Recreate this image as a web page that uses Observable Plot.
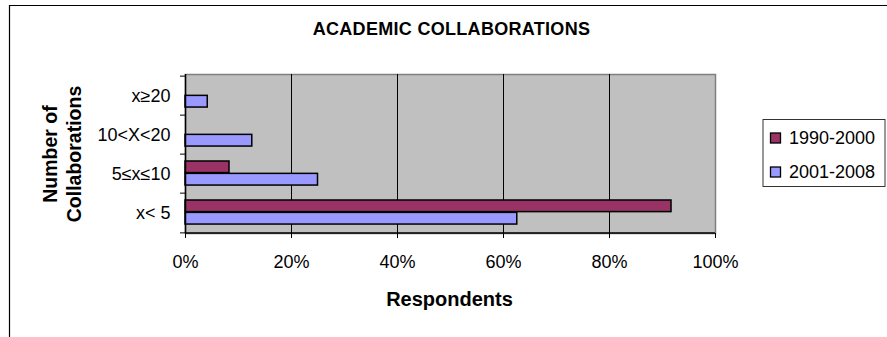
<!DOCTYPE html>
<html>
<head>
<meta charset="utf-8">
<script src="https://cdn.jsdelivr.net/npm/d3@7"></script>
<script src="https://cdn.jsdelivr.net/npm/@observablehq/plot@0.6"></script>
<style>
  html, body { margin: 0; padding: 0; background: #fff; }
  #wrap { position: relative; width: 887px; height: 337px; overflow: hidden; background: #fff;
          font-family: "Liberation Sans", Arial, Helvetica, sans-serif; }
  #wrap > svg { position: absolute; left: 0; top: 0; }
</style>
</head>
<body>
<div id="wrap"></div>
<script>
// ---- data ----
const title = "ACADEMIC COLLABORATIONS";
const xTitle = "Respondents";
const yTitleLines = ["Number of", "Collaborations"];
const categories = ["x≥20", "10<X<20", "5≤x≤10", "x< 5"];
const seriesNames = ["1990-2000", "2001-2008"];
const values1990 = [0, 0, 8.3, 91.7];
const values2001 = [4.2, 12.6, 25.0, 62.6];
const xTicks = [0, 20, 40, 60, 80, 100];
const seriesColors = ["#993366", "#9999FF"];

// ---- layout ----
const W = 887, H = 337;
const mL = 185, mR = 172, mT = 74, mB = 104;
const bw = (H - mT - mB) / categories.length;
const font = '"Liberation Sans", Arial, Helvetica, sans-serif';

const rows1990 = categories.map((c, i) => ({category: c, series: seriesNames[0], value: values1990[i]})).filter(d => d.value > 0);
const rows2001 = categories.map((c, i) => ({category: c, series: seriesNames[1], value: values2001[i]})).filter(d => d.value > 0);

const chart = Plot.plot({
  width: W, height: H,
  marginLeft: mL, marginRight: mR, marginTop: mT, marginBottom: mB,
  style: {fontFamily: font, fontSize: "18px", color: "#000", background: "transparent", overflow: "visible"},
  x: {domain: [0, 100]},
  y: {domain: categories, padding: 0},
  marks: [
    Plot.frame({fill: "#C0C0C0", stroke: "#808080", strokeWidth: 1.5}),
    Plot.ruleX(xTicks.slice(1, -1), {stroke: "#000", strokeWidth: 1}),
    Plot.barX(rows1990, {y: "category", x: "value", fill: seriesColors[0], stroke: "#000", strokeWidth: 1.5,
      insetTop: bw * 0.176, insetBottom: bw * 0.513}),
    Plot.barX(rows2001, {y: "category", x: "value", fill: seriesColors[1], stroke: "#000", strokeWidth: 1.5,
      insetTop: bw * 0.487, insetBottom: bw * 0.2}),
    Plot.ruleX([0], {stroke: "#000", strokeWidth: 1.5}),
    Plot.ruleY(categories.slice(-1), {dy: bw / 2, stroke: "#000", strokeWidth: 1.5}),
    Plot.axisX({ticks: xTicks, tickFormat: d => d + "%", tickSize: 5, tickPadding: 17, label: null, fontSize: 18}),
    Plot.axisY({tickSize: 0, tickPadding: 15, label: null, fontSize: 18}),
    Plot.axisY({tickSize: 5, tickFormat: () => "", label: null, dy: -bw / 2}),
    Plot.axisY(categories.slice(-1), {tickSize: 5, tickFormat: () => "", label: null, dy: bw / 2})
  ]
});
document.getElementById("wrap").appendChild(chart);

// ---- overlay: border, titles, legend ----
const ns = "http://www.w3.org/2000/svg";
const ov = d3.select("#wrap").append("svg")
  .attr("width", W).attr("height", H)
  .style("font-family", font);

// outer chart-area border
ov.append("path").attr("d", `M9.5,${H}V5.5H${W}`).attr("fill", "none").attr("stroke", "#000").attr("stroke-width", 1.2);

// title
ov.append("text").attr("x", 451.5).attr("y", 35).attr("text-anchor", "middle")
  .attr("font-size", 18).attr("font-weight", "bold").attr("letter-spacing", 0.3).text(title);

// x title
ov.append("text").attr("x", 449.5).attr("y", 306).attr("text-anchor", "middle")
  .attr("font-size", 20).attr("font-weight", "bold").text(xTitle);

// y title
const yt = ov.append("text").attr("transform", "translate(0,154) rotate(-90)")
  .attr("text-anchor", "middle").attr("font-size", 19.5).attr("font-weight", "bold");
yTitleLines.forEach((t, i) => yt.append("tspan").attr("x", 0).attr("y", 57 + i * 24).text(t));

// legend
const lg = ov.append("g");
lg.append("rect").attr("x", 763).attr("y", 119.5).attr("width", 122).attr("height", 67)
  .attr("fill", "#fff").attr("stroke", "#333").attr("stroke-width", 1);
seriesNames.forEach((s, i) => {
  const y0 = 133 + i * 34;
  lg.append("rect").attr("x", 770.5).attr("y", y0).attr("width", 10).attr("height", 10)
    .attr("fill", seriesColors[i]).attr("stroke", "#000").attr("stroke-width", 1.3);
  lg.append("text").attr("x", 789).attr("y", y0 + 10.5).attr("font-size", 18).text(s);
});
</script>
</body>
</html>
